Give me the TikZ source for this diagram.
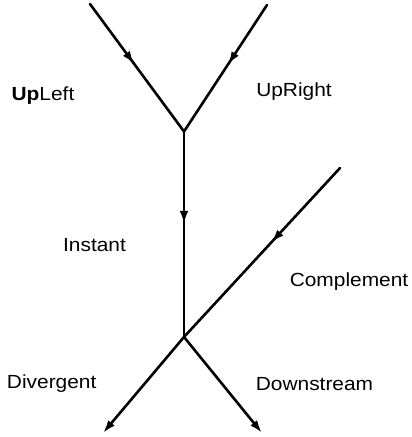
\documentclass[tikz,border=0pt]{standalone}
\usepackage{fontspec}
\setmainfont{Liberation Sans}[FakeStretch=1.1]
\usetikzlibrary{arrows.meta,decorations.markings}

\tikzset{
  flow/.style={line width=2.6bp, black, line cap=round},
  midarrow/.style={postaction={decorate},
    decoration={markings, mark=at position #1 with {\arrow{Latex[length=13bp,width=8.5bp]}}}},
  endarrow/.style={-{Latex[length=13bp,width=8.5bp]}},
  lbl/.style={anchor=base, inner sep=0pt, font=\fontsize{19bp}{23bp}\selectfont}
}

\begin{document}
\begin{tikzpicture}[x=1bp,y=-1bp]
  \useasboundingbox (0,0) rectangle (411,437);

  % branch points and free ends of the streams
  \coordinate (ul) at (90,4);
  \coordinate (ur) at (267,5);
  \coordinate (j1) at (184,131.5);
  \coordinate (j2) at (184,337);
  \coordinate (cm) at (340,168);
  \coordinate (dv) at (103,433);
  \coordinate (ds) at (262,433);

  % incoming streams
  \draw[flow, midarrow=0.47] (ul) -- (j1);
  \draw[flow, midarrow=0.47] (ur) -- (j1);
  \draw[flow, midarrow=0.45] (j1) -- (j2);
  \draw[flow, midarrow=0.44] (cm) -- (j2);

  % outgoing streams
  \draw[flow, endarrow] (j2) -- (dv);
  \draw[flow, endarrow] (j2) -- (ds);

  % labels
  \node[lbl] (upleft)     at (43,100.5)  {\textbf{Up}Left};
  \node[lbl] (upright)    at (294,97)    {UpRight};
  \node[lbl] (instant)    at (94.5,251.5) {Instant};
  \node[lbl] (complement) at (349,286)   {Complement};
  \node[lbl] (divergent)  at (51.7,388)  {Divergent};
  \node[lbl] (downstream) at (314.5,390) {Downstream};
\end{tikzpicture}
\end{document}
